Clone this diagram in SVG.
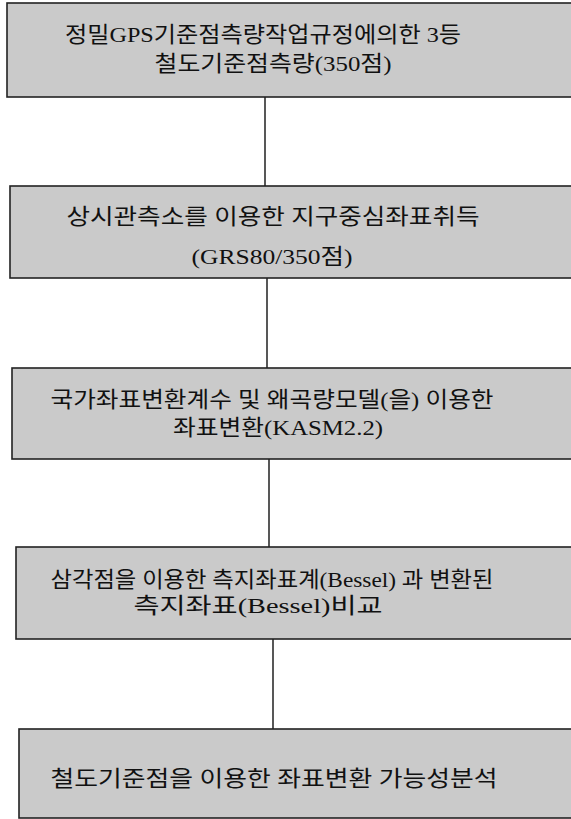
<svg xmlns="http://www.w3.org/2000/svg" width="571" height="819" viewBox="0 0 571 819">
<style>
.box{fill:#cacaca;stroke:#222;stroke-width:1.6}
.t{font-family:"Liberation Serif","Noto Sans CJK KR",serif;font-size:22px;fill:#111;text-anchor:middle}
.c{stroke:#111;stroke-width:1.4;fill:none}
</style>
<rect width="571" height="819" fill="#fff"/>
<g id="connectors">
<line class="c" x1="265" y1="97" x2="265" y2="186"/>
<line class="c" x1="267" y1="278" x2="267" y2="368"/>
<line class="c" x1="269" y1="459" x2="269" y2="547"/>
<line class="c" x1="273" y1="639" x2="273" y2="729"/>
</g>
<g id="n1">
<rect class="box" x="7" y="3" width="580" height="94"/>
<text class="t" x="263" y="42" textLength="396" lengthAdjust="spacingAndGlyphs">정밀GPS기준점측량작업규정에의한 3등</text>
<text class="t" x="273" y="71" textLength="237" lengthAdjust="spacingAndGlyphs">철도기준점측량(350점)</text>
</g>
<g id="n2">
<rect class="box" x="10" y="186" width="580" height="92"/>
<text class="t" x="273" y="224" textLength="413" lengthAdjust="spacingAndGlyphs">상시관측소를 이용한 지구중심좌표취득</text>
<text class="t" x="272" y="264" textLength="161" lengthAdjust="spacingAndGlyphs">(GRS80/350점)</text>
</g>
<g id="n3">
<rect class="box" x="12" y="368" width="580" height="91"/>
<text class="t" x="272" y="407" textLength="443" lengthAdjust="spacingAndGlyphs">국가좌표변환계수 및 왜곡량모델(을) 이용한</text>
<text class="t" x="278" y="435" textLength="210" lengthAdjust="spacingAndGlyphs">좌표변환(KASM2.2)</text>
</g>
<g id="n4">
<rect class="box" x="16" y="547" width="580" height="92"/>
<text class="t" x="272" y="587" textLength="443" lengthAdjust="spacingAndGlyphs">삼각점을 이용한 측지좌표계(Bessel) 과 변환된</text>
<text class="t" x="258" y="613" textLength="249" lengthAdjust="spacingAndGlyphs">측지좌표(Bessel)비교</text>
</g>
<g id="n5">
<rect class="box" x="19" y="729" width="580" height="89"/>
<text class="t" x="274" y="786" textLength="447" lengthAdjust="spacingAndGlyphs">철도기준점을 이용한 좌표변환 가능성분석</text>
</g>
</svg>
